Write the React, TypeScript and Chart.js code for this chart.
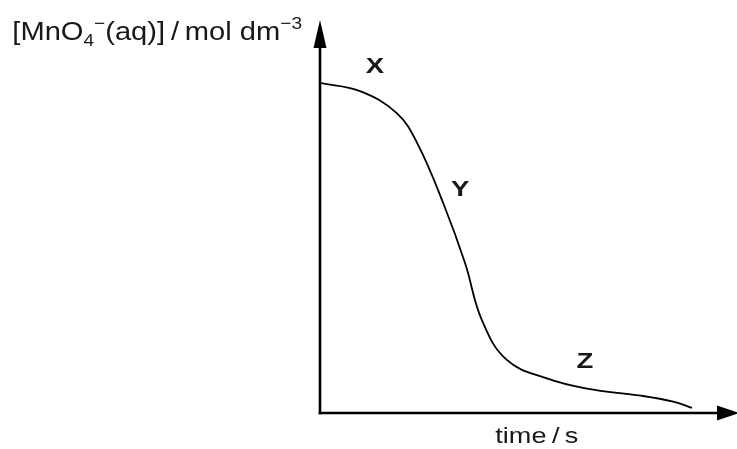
import React, { useEffect, useRef } from "react";
import { Chart, registerables } from "chart.js";

Chart.register(...registerables);

// Curve (arbitrary units: time 0..100, concentration 0..100)
const timeValues = [0, 9.6, 18.4, 23.4, 29.7, 34.8, 38.8, 44.8, 54.4, 64.0, 77.0, 84.7, 89.2];
const concValues = [84.0, 81.9, 76.3, 68.5, 53.0, 38.1, 23.7, 13.5, 8.8, 6.2, 4.4, 2.9, 1.3];

// Region labels placed in data coordinates
const regionLabels = ["X", "Y", "Z"];
const regionX = [13.2, 33.6, 63.5];
const regionY = [88.0, 56.7, 13.0];

const xAxisTitle = "time\u2009/\u2009s";
const xTitleAt = 52.0;
// y-axis title pieces: [text, role]
const yTitleParts: [string, string][] = [
  ["[MnO", "n"],
  ["4", "sub"],
  ["\u2212", "sup"],
  ["(aq)]\u2009/\u2009mol dm", "n"],
  ["\u22123", "sup"],
];

const FONT = '"Liberation Sans", Arial, Helvetica, sans-serif';
const TEXT = "#1a1718";

function stretchedText(ctx: any, text: string, x: number, y: number, sx: number) {
  ctx.save();
  ctx.translate(x, y);
  ctx.scale(sx, 1);
  ctx.fillText(text, 0, 0);
  ctx.restore();
}

const axesPlugin = {
  id: "arrowAxes",
  afterDraw(chart: any) {
    const { ctx, chartArea } = chart;
    const { left, right, top, bottom } = chartArea;
    const xs = chart.scales.x;
    const ys = chart.scales.y;
    ctx.save();
    ctx.strokeStyle = "#000";
    ctx.fillStyle = "#000";
    ctx.lineWidth = 2.6;
    ctx.lineCap = "butt";
    // y axis
    ctx.beginPath();
    ctx.moveTo(left, bottom + 1.3);
    ctx.lineTo(left, top + 20);
    ctx.stroke();
    ctx.beginPath();
    ctx.moveTo(left, top);
    ctx.lineTo(left - 6.5, top + 28);
    ctx.lineTo(left + 6.5, top + 28);
    ctx.closePath();
    ctx.fill();
    // x axis
    ctx.beginPath();
    ctx.moveTo(left - 1.3, bottom);
    ctx.lineTo(right - 15, bottom);
    ctx.stroke();
    ctx.beginPath();
    ctx.moveTo(right + 2, bottom);
    ctx.lineTo(right - 20, bottom - 7.5);
    ctx.lineTo(right - 20, bottom + 7.5);
    ctx.closePath();
    ctx.fill();

    // region labels
    ctx.fillStyle = TEXT;
    ctx.font = `bold 22px ${FONT}`;
    ctx.textAlign = "center";
    ctx.textBaseline = "middle";
    regionLabels.forEach((l, i) => {
      stretchedText(ctx, l, xs.getPixelForValue(regionX[i]), ys.getPixelForValue(regionY[i]), 1.25);
    });

    // x title
    ctx.font = `22px ${FONT}`;
    ctx.textBaseline = "alphabetic";
    stretchedText(ctx, xAxisTitle, xs.getPixelForValue(xTitleAt), bottom + 30, 1.23);

    // y title (rich text), right-aligned to the left of the y axis
    const SX = 1.12;
    const sizeFor = (r: string) => (r === "n" ? 26 : 17);
    const dyFor = (r: string) => (r === "sub" ? 6 : r === "sup" ? -11 : 0);
    let total = 0;
    const widths = yTitleParts.map(([t, r]) => {
      ctx.font = `${sizeFor(r)}px ${FONT}`;
      const w = ctx.measureText(t).width * SX;
      total += w;
      return w;
    });
    let x = left - 18 - total;
    const baseY = top + 20;
    ctx.textAlign = "left";
    yTitleParts.forEach(([t, r], i) => {
      ctx.font = `${sizeFor(r)}px ${FONT}`;
      stretchedText(ctx, t, x, baseY + dyFor(r), SX);
      x += widths[i];
    });
    ctx.restore();
  },
};

export default function App() {
  const ref = useRef<HTMLCanvasElement | null>(null);
  useEffect(() => {
    document.body.style.margin = "0";
    if (!ref.current) return;
    const chart = new Chart(ref.current, {
      type: "line",
      data: {
        datasets: [
          {
            data: timeValues.map((t, i) => ({ x: t, y: concValues[i] })),
            borderColor: "#000",
            borderWidth: 1.8,
            pointRadius: 0,
            fill: false,
            tension: 0.4,
          },
        ],
      },
      options: {
        animation: false,
        responsive: true,
        maintainAspectRatio: false,
        layout: { padding: { left: 320, top: 20, right: 0, bottom: 36 } },
        plugins: { legend: { display: false }, tooltip: { enabled: false } },
        scales: {
          x: { type: "linear", min: 0, max: 100, display: false },
          y: { type: "linear", min: 0, max: 100, display: false },
        },
      },
      plugins: [axesPlugin],
    } as any);
    return () => chart.destroy();
  }, []);
  return (
    <div style={{ position: "absolute", left: 0, top: 0, width: 737, height: 449, background: "#fff" }}>
      <canvas ref={ref} />
    </div>
  );
}
